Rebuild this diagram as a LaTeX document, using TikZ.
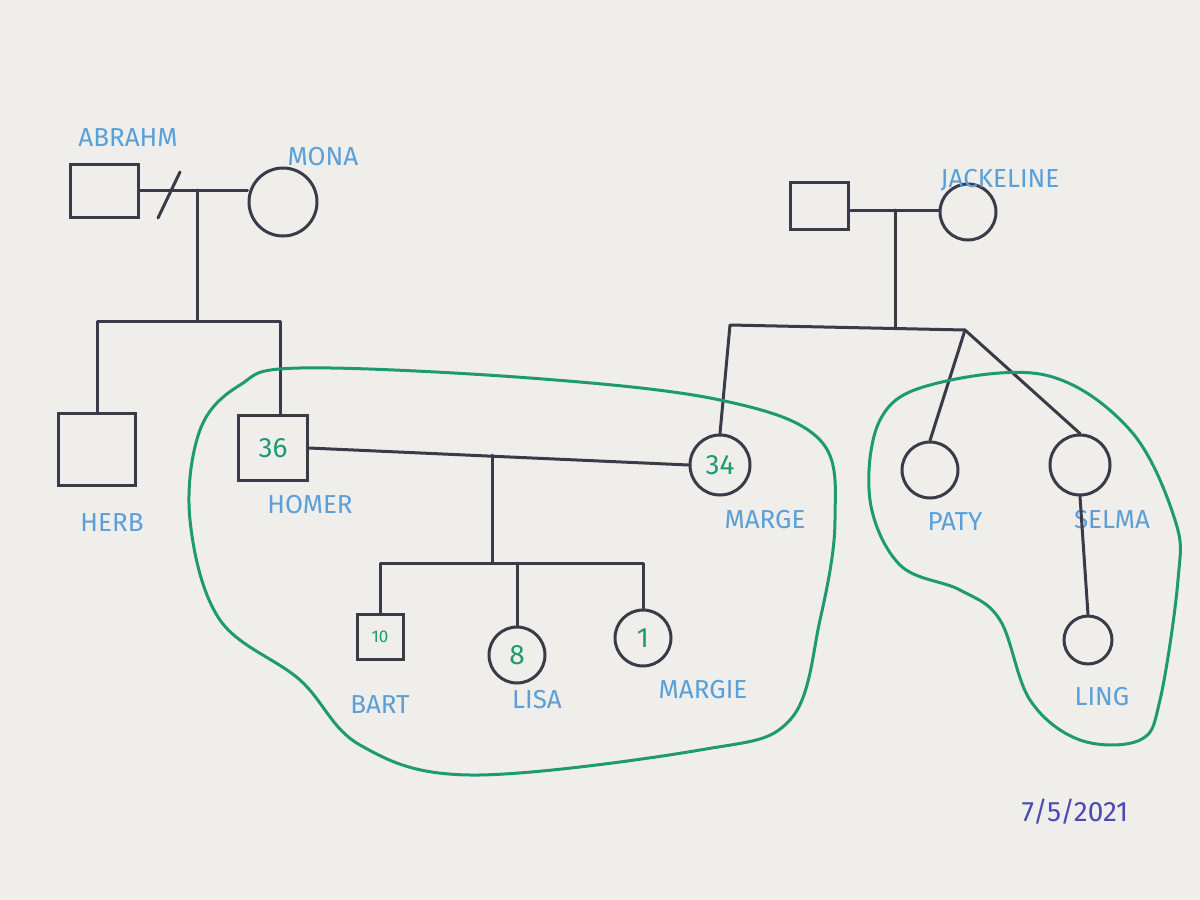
\documentclass[tikz,border=0pt]{standalone}
\usepackage{fontspec}
\setmainfont{Fira Sans}
\definecolor{paper}{HTML}{EFEEEA}
\definecolor{ink}{HTML}{3A3A48}
\definecolor{lbl}{HTML}{5A9FD8}
\definecolor{grn}{HTML}{1E9A72}
\definecolor{datec}{HTML}{4A4AB0}
\begin{document}
\begin{tikzpicture}[x=1pt,y=-1pt,
  gline/.style={ink,line width=3pt,line cap=round,line join=round},
  male/.style={draw=ink,line width=3pt,rectangle,inner sep=0pt},
  female/.style={draw=ink,line width=3pt,circle,inner sep=0pt},
  lab/.style={text=lbl,font=\fontsize{26}{28}\selectfont},
  agetxt/.style={text=grn,font=\fontsize{28}{30}\selectfont},
  outline/.style={grn,line width=3pt}]
\useasboundingbox (0,0) rectangle (1200,900);
\fill[paper] (0,0) rectangle (1200,900);
% left parents
\node[male,minimum width=68pt,minimum height=53pt] (abr) at (104,191) {};
\node[female,minimum size=68pt] (mona) at (283,202) {};
\node[lab] (labr) at (128,138) {ABRAHM};
\node[lab] (lmona) at (323,157) {MONA};
\coordinate (lm1) at (197,190);
\coordinate (lm2) at (197,321);
\draw[gline] (abr.east |- 0,190) -- (mona.west |- 0,190);
\draw[gline] (158,218) -- (180,172);
\draw[gline] (lm1) -- (lm2);
\node[male,minimum width=77pt,minimum height=72pt] (herb) at (97,449) {};
\node[lab] (lherb) at (112,523) {HERB};
\node[male,minimum width=69pt,minimum height=65pt] (homer) at (273,448) {};
\node[agetxt] at (homer) {36};
\node[lab] (lhomer) at (310,505) {HOMER};
\draw[gline] (herb.north) -- (97,321) -- (280,321) -- (homer.north -| 280,0);
% right parents
\node[male,minimum width=58pt,minimum height=47pt] (rf) at (819,206) {};
\node[female,minimum size=56pt] (jack) at (968,212) {};
\node[lab] (ljack) at (1000,180) {JACKELINE};
\draw[gline] (rf.east |- 0,210) -- (jack.west |- 0,210);
\coordinate (rm1) at (895,210);
\coordinate (rm2) at (895,327);
\draw[gline] (rm1) -- (rm2);
\coordinate (rs) at (965,330);
\node[female,minimum size=60pt] (marge) at (720,465) {};
\node[agetxt] at (marge) {34};
\node[lab] (lmarge) at (765,520) {MARGE};
\draw[gline] (marge.north) -- (730,325) -- (rs);
\node[female,minimum size=56pt] (paty) at (930,470) {};
\node[lab] (lpaty) at (955,522) {PATY};
\node[female,minimum size=60pt] (selma) at (1080,465) {};
\node[lab] (lselma) at (1112,520) {SELMA};
\draw[gline] (rs) -- (paty.north);
\draw[gline] (rs) -- (selma.north);
\node[female,minimum size=48pt] (ling) at (1088,640) {};
\node[lab] (lling) at (1102,697) {LING};
\draw[gline] (selma.south) -- (ling.north);
% marriage Homer-Marge
\draw[gline] (homer.east) -- (marge.west);
\coordinate (cm1) at (492,455);
\coordinate (cm2) at (492,562);
\draw[gline] (cm1) -- (cm2);
\node[male,minimum width=46pt,minimum height=45pt] (bart) at (380,637) {};
\node[agetxt,font=\fontsize{17}{18}\selectfont] at (bart) {10};
\node[female,minimum size=56pt] (lisa) at (517,655) {};
\node[agetxt] at (lisa) {8};
\node[female,minimum size=56pt] (margie) at (643,638) {};
\node[agetxt] at (margie) {1};
\node[lab] (lbart) at (380,705) {BART};
\node[lab] (llisa) at (537,700) {LISA};
\node[lab] (lmargie) at (703,690) {MARGIE};
\draw[gline] (bart.north) -- (380,563) -- (643,563) -- (margie.north);
\draw[gline] (lisa.north) -- (517,563);
% green outlines
\draw[outline] plot[smooth cycle,tension=0.6] coordinates {(300,368) (530,378) (720,400) (820,440) (835,520) (820,620) (790,720) (700,750) (470,775) (360,745) (300,680) (220,620) (190,520) (200,430) (240,385)};
\draw[outline] plot[smooth cycle,tension=0.6] coordinates {(1045,375) (1130,430) (1175,520) (1178,580) (1160,700) (1140,740) (1080,740) (1030,700) (1000,620) (960,590) (900,565) (870,500) (880,420) (930,385)};
\node[text=datec,font=\fontsize{28}{30}\selectfont] (dt) at (1075,812) {7/5/2021};
\end{tikzpicture}
\end{document}
